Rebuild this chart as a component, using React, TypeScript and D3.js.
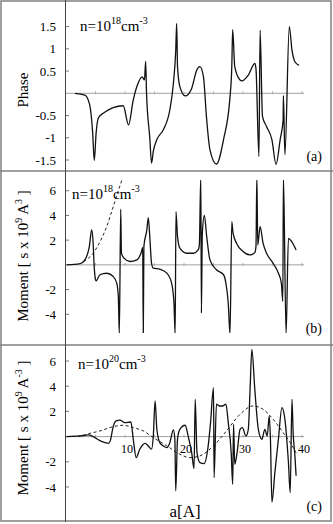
import React from 'react';
import * as d3 from 'd3';

// panel (a): phase vs a
const phaseA = [1.5, 3.2, 4.0, 4.5, 4.8, 5.1, 5.5, 6.3, 9.7, 10.6, 11.4, 12.2, 12.9, 13.3, 13.5, 13.65, 14.2, 14.5, 14.8, 15.4, 16.5, 17.6, 18.2, 18.6, 18.76, 18.9, 19.3, 20.2, 21.3, 22.15, 22.7, 23.3, 23.8, 24.4, 25.5, 26.7, 27.8, 28.1, 28.25, 28.6, 29.5, 29.8, 30.9, 32.0, 32.2, 32.7, 32.9, 33.3, 34.0, 34.9, 35.6, 36.3, 36.8, 36.85, 37.1, 37.85, 38.3, 38.8, 39.5];
const phaseV = [0, -0.04, -0.25, -0.85, -1.51, -0.9, -0.55, -0.45, -0.28, -0.71, -0.15, 0.22, 0.37, 0.3, 0.72, 0.0, -1.0, -1.57, -1.3, -1.04, -0.82, -0.37, 0.22, 0.97, 1.57, 0.6, 0.15, -0.06, 0.11, 0.52, 0.6, 0.37, -0.52, -1.27, -1.59, -1.04, -0.08, 0.6, 1.43, 0.6, 0.3, 0.28, 0.41, 0.67, 0.55, -1.42, 1.42, -0.52, -0.75, -1.04, -1.6, -1.04, -0.6, -0.05, -1.38, 1.5, 0.97, 0.71, 0.63];

// panel (b): moment, n=1e18
const momBA = [0.1, 2.4, 3.2, 3.95, 4.35, 4.6, 4.75, 5.0, 5.1, 5.76, 6.9, 8.0, 8.6, 8.87, 9.04, 9.27, 9.4, 9.83, 10.85, 12.0, 12.8, 13.0, 13.1, 13.2, 13.7, 13.95, 14.2, 14.5, 14.8, 15.9, 17.1, 17.9, 18.3, 18.5, 18.64, 18.9, 19.3, 20.45, 21.6, 22.4, 22.6, 22.85, 22.95, 23.1, 23.45, 23.85, 24.4, 25.5, 26.7, 27.1, 27.5, 27.8, 28.1, 28.3, 28.9, 30.0, 31.2, 32.0, 32.2, 32.35, 32.5, 32.9, 33.4, 34.0, 35.1, 36.0, 36.5, 36.75, 36.85, 37.3, 37.7, 38.25, 39.0];
const momBV = [0, 0.1, 0.4, 1.48, 2.82, 1.75, 0.1, -1.2, -1.3, -0.8, -0.68, -0.94, -1.48, -2.55, -5.6, 4.5, 0.94, 0.54, 0.27, 0.4, 1.08, 1.42, -5.6, 1.5, 2.82, 3.82, 2.28, 0.13, -0.27, -0.35, -0.67, -1.48, -3.1, -5.6, 4.3, 2.28, 1.35, 0.94, 0.94, 1.21, 1.6, 7.2, -3.9, 2.5, 4.0, 2.28, 0.4, -0.4, -0.8, -1.48, -3.1, -5.6, 3.5, 2.6, 1.75, 1.08, 0.8, 0.99, 1.5, 7.2, 1.6, 3.1, 1.75, 0.94, 0.13, -0.67, -1.48, -2.96, 7.2, -5.6, 2.15, 1.88, 1.21];
const fitBA = [3.0, 4.6, 5.8, 6.9, 8.0, 8.9, 9.5];
const fitBV = [0.27, 0.94, 1.9, 3.1, 4.7, 6.05, 6.9];

// panel (c): moment, n=1e20
const momCA = [0.1, 2.4, 3.8, 4.6, 5.8, 7.2, 7.5, 8.0, 8.5, 9.15, 10.0, 11.0, 11.4, 11.9, 12.5, 13.4, 13.95, 14.5, 14.8, 15.1, 15.4, 15.9, 16.5, 17.1, 17.6, 18.2, 18.45, 18.6, 18.9, 19.3, 20.2, 20.7, 21.3, 21.7, 21.9, 22.2, 22.7, 23.4, 24.1, 24.5, 25.0, 25.1, 25.5, 26.0, 26.6, 27.1, 27.5, 28.0, 28.25, 28.4, 28.6, 29.0, 29.5, 29.9, 30.5, 30.9, 31.2, 31.5, 32.0, 32.6, 33.2, 33.7, 34.1, 34.45, 34.65, 34.9, 35.4, 36.0, 36.6, 37.1, 37.7, 38.0, 38.3, 38.5, 38.8, 39.0];
const momCV = [0, 0.05, 0.13, 0, -0.34, -0.53, -0.34, 0.79, 1.24, 1.3, 1.11, 1.16, -0.21, -1.67, -1.0, -0.53, -0.74, -1.0, 0.05, 2.83, 0.58, -0.48, -0.74, -0.87, -0.48, 0.53, -0.21, -4.3, -0.2, 0.58, 0.9, 0.05, -1.27, -2.54, 2.96, -1.27, -2.06, -2.14, -0.74, 1.11, 3.89, -3.25, 2.57, 2.43, 2.43, 2.57, 1.11, -1.27, -3.78, 0.98, -2.2, -1.27, 0.58, 0.71, 0.05, 0.58, 3.76, 6.93, 3.76, 0.58, -0.21, 0.58, 0.05, 1.64, -0.2, -5.2, -2.86, -0.21, 2.3, 1.38, -2.06, -4.44, 2.96, 0.32, -1.53, -3.1];
const fitCA = [0.1, 2.4, 4.07, 5.76, 8.0, 9.7, 11.4, 13.1, 14.8, 17.1, 19.3, 21.0, 22.7, 25.0, 27.2, 29.5, 31.7, 33.4, 35.1, 36.8, 38.0, 39.0];
const fitCV = [0, 0.05, 0.26, 0.45, 0.79, 0.9, 0.71, 0.45, -0.08, -0.74, -1.4, -1.67, -1.53, -0.74, 0.45, 1.77, 2.43, 2.17, 1.38, 0.32, -0.48, -1.27];

const phaseTicks = [-1.5, -1, -0.5, 0.5, 1, 1.5];
const phaseTickLabels = ['-1.5', '-1', '-0.5', '0.5', '1', '1.5'];
const momentTicks = [-4, -2, 2, 4, 6];
const xTicks = [5, 10, 15, 20, 25, 30, 35, 40];
const xLabelTicks = [10, 20, 30, 40];

const W = 333;
const H = 524;
const FONT = 'Liberation Serif';

const x = d3.scaleLinear().domain([0, 40]).range([66, 302]);

type Panel = {
  id: string;
  top: number;
  bottom: number;
  y: d3.ScaleLinear<number, number>;
  ticks: number[];
  tickLabels: string[];
  solid: [number[], number[]];
  dashed?: [number[], number[]];
  tag: string;
  tagY: number;
  nExp: string;
  nX: number;
  nY: number;
  yLabel: 'phase' | 'moment';
  labelY: number;
  xLabels: boolean;
};

const panels: Panel[] = [
  {
    id: 'a', top: 4, bottom: 168,
    y: d3.scaleLinear().domain([-1.5, 1.5]).range([160, 26.6]),
    ticks: phaseTicks, tickLabels: phaseTickLabels,
    solid: [phaseA, phaseV], tag: '(a)', tagY: 161,
    nExp: '18', nX: 80, nY: 31, yLabel: 'phase', labelY: 90, xLabels: false,
  },
  {
    id: 'b', top: 180, bottom: 333,
    y: d3.scaleLinear().domain([-4, 6]).range([314.3, 190.7]),
    ticks: momentTicks, tickLabels: momentTicks.map(String),
    solid: [momBA, momBV], dashed: [fitBA, fitBV], tag: '(b)', tagY: 333,
    nExp: '18', nX: 72, nY: 199, yLabel: 'moment', labelY: 256, xLabels: false,
  },
  {
    id: 'c', top: 348, bottom: 505,
    y: d3.scaleLinear().domain([-4, 6]).range([487, 361]),
    ticks: momentTicks, tickLabels: momentTicks.map(String),
    solid: [momCA, momCV], dashed: [fitCA, fitCV], tag: '(c)', tagY: 511,
    nExp: '20', nX: 78, nY: 369, yLabel: 'moment', labelY: 428, xLabels: true,
  },
];

function PanelView({ p }: { p: Panel }) {
  const line = d3.line<number>()
    .x((_, i) => x(p.solid[0][i]))
    .y((v) => p.y(v))
    .curve(d3.curveMonotoneX);
  const dline = p.dashed
    ? d3.line<number>()
        .x((_, i) => x(p.dashed![0][i]))
        .y((v) => p.y(v))
        .curve(d3.curveMonotoneX)
    : null;
  const y0 = p.y(0);
  return (
    <g>
      <defs>
        <clipPath id={`clip-${p.id}`}>
          <rect x={66} y={p.top} width={250} height={p.bottom - p.top} />
        </clipPath>
      </defs>
      {/* zero axis */}
      <line x1={66} x2={304} y1={y0} y2={y0} stroke="#a0a0a0" strokeWidth={1} />
      {xTicks.map((t) => (
        <line key={t} x1={x(t)} x2={x(t)} y1={y0 - 2} y2={y0 + 1} stroke="#a0a0a0" strokeWidth={0.8} />
      ))}
      {p.xLabels && xLabelTicks.map((t) => (
        <text key={t} x={x(t) + 2} y={y0 + 16} fontSize={12} fill="#000" textAnchor="middle">{t}</text>
      ))}
      {/* y ticks */}
      {p.ticks.map((t, i) => (
        <g key={t}>
          <line x1={65} x2={69} y1={p.y(t)} y2={p.y(t)} stroke="#555" strokeWidth={0.8} />
          <text x={56} y={p.y(t) + 4.5} fontSize={13} fill="#000" textAnchor="end">{p.tickLabels[i]}</text>
        </g>
      ))}
      <g clipPath={`url(#clip-${p.id})`}>
        {dline && (
          <path d={dline(p.dashed![1]) || ''} fill="none" stroke="#222" strokeWidth={1} strokeDasharray="3,2.5" />
        )}
        <path d={line(p.solid[1]) || ''} fill="none" stroke="#111" strokeWidth={1.3} />
      </g>
      <text x={p.nX} y={p.nY} fontSize={15} fill="#000">
        n=10<tspan dy={-7} fontSize={10}>{p.nExp}</tspan>
        <tspan dy={7}>cm</tspan>
        <tspan dy={-7} fontSize={10}>-3</tspan>
      </text>
      <text x={322} y={p.tagY} fontSize={14} fill="#000" textAnchor="end">{p.tag}</text>
      {p.yLabel === 'phase' ? (
        <text transform={`translate(28,${p.labelY}) rotate(-90)`} fontSize={15} fill="#000" textAnchor="middle">Phase</text>
      ) : (
        <text transform={`translate(28,${p.labelY}) rotate(-90)`} fontSize={15} fill="#000" textAnchor="middle">
          Moment [ s x 10<tspan dy={-6} fontSize={10}>9</tspan>
          <tspan dy={6}> A</tspan>
          <tspan dy={-6} fontSize={10}>{p.id === 'c' ? '-3' : '3'}</tspan>
          <tspan dy={6}> ]</tspan>
        </text>
      )}
    </g>
  );
}

export default function App() {
  return (
    <svg width={W} height={H} style={{ position: 'absolute', left: 0, top: 0, background: '#fff', fontFamily: FONT }}>
      <rect x={0} y={0} width={W} height={H} fill="#fff" />
      {panels.map((p) => <PanelView key={p.id} p={p} />)}
      <text x={185} y={517} fontSize={17} fill="#000" textAnchor="middle">a[A]</text>
      {/* frame and dividers */}
      <rect x={1} y={1} width={330} height={520} fill="none" stroke="#808080" strokeWidth={1.5} />
      <line x1={0} x2={W} y1={171} y2={171} stroke="#808080" strokeWidth={1.5} />
      <line x1={0} x2={W} y1={345} y2={345} stroke="#808080" strokeWidth={1.5} />
      <line x1={65.5} x2={65.5} y1={0} y2={522} stroke="#444" strokeWidth={1} />
    </svg>
  );
}
